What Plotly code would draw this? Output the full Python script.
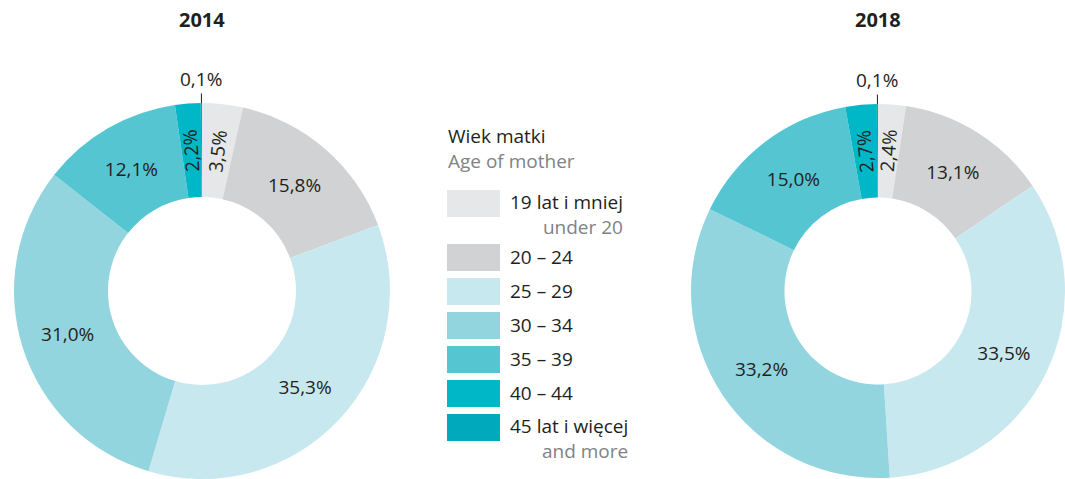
import math
import plotly.graph_objects as go

W, H = 1065, 479

categories_pl = ["19 lat i mniej", "20 – 24", "25 – 29", "30 – 34", "35 – 39", "40 – 44", "45 lat i więcej"]
categories_en = ["under 20", "", "", "", "", "", "and more"]
values_2014 = [3.5, 15.8, 35.3, 31.0, 12.1, 2.2, 0.1]
values_2018 = [2.4, 13.1, 33.5, 33.2, 15.0, 2.7, 0.1]
colors = ["#e6e7e8", "#d1d2d4", "#c8e8ef", "#93d5df", "#56c5d2", "#00b7c7", "#00a9bc"]
years = ["2014", "2018"]

FONT = "Open Sans"
DARK = "#231f20"
GRAY = "#808285"
HOLE = 0.5
LABEL_SIZE = 19


def fmt(v):
    return f"{v:.1f}".replace(".", ",") + "%"


def px_x(p):
    return p / W


def px_y(p):
    return 1 - p / H


fig = go.Figure()

# pie domains in pixels: (left, right, top, bottom)
dom_px = [(14, 390, 103, H), (691, W, 103, H)]

annotations = []
for yr, vals, (l, r, t, b) in zip(years, [values_2014, values_2018], dom_px):
    total = sum(vals)
    texts = []
    R = min(r - l, b - t) / 2
    cx, cy = (l + r) / 2, (t + b) / 2
    cum = 0
    for i, v in enumerate(vals):
        mid = (cum + v / 2) / total * 360
        cum += v
        if v < 1:
            texts.append("")
            ex = cx + R * math.sin(math.radians(mid))
            ey = cy - R * math.cos(math.radians(mid))
            annotations.append(dict(
                x=px_x(ex), y=px_y(ey), xref="paper", yref="paper",
                text=fmt(v), showarrow=True, arrowhead=0, arrowwidth=1,
                arrowcolor=DARK, ax=0, ay=-24, standoff=0,
                font=dict(family=FONT, size=LABEL_SIZE, color=DARK),
            ))
        elif v < 5:
            texts.append("")
            rm = R * (1 + HOLE) / 2
            tx = cx + rm * math.sin(math.radians(mid))
            ty = cy - rm * math.cos(math.radians(mid))
            annotations.append(dict(
                x=px_x(tx), y=px_y(ty), xref="paper", yref="paper",
                text=fmt(v), showarrow=False, textangle=mid - 90,
                xanchor="center", yanchor="middle",
                font=dict(family=FONT, size=LABEL_SIZE, color=DARK),
            ))
        else:
            texts.append(fmt(v))
    fig.add_trace(go.Pie(
        labels=categories_pl,
        values=vals,
        text=texts,
        textinfo="text",
        textposition="inside",
        insidetextorientation="horizontal",
        textfont=dict(family=FONT, size=LABEL_SIZE, color=DARK),
        marker=dict(colors=colors, line=dict(width=0)),
        hole=HOLE,
        sort=False,
        direction="clockwise",
        rotation=0,
        domain=dict(x=[px_x(l), px_x(r)], y=[px_y(b), px_y(t)]),
        showlegend=False,
        hoverinfo="label+percent",
    ))
    annotations.append(dict(
        x=px_x(cx), y=px_y(19), xref="paper", yref="paper",
        text=f"<b>{yr}</b>", showarrow=False,
        font=dict(family=FONT, size=20, color=DARK),
        xanchor="center", yanchor="middle",
    ))

# legend title
LEG = 19
annotations.append(dict(x=px_x(446), y=px_y(148), xref="paper", yref="paper",
                        text=f"Wiek matki<br><span style='color:{GRAY}'>Age of mother</span>",
                        showarrow=False, xanchor="left", yanchor="middle", align="left",
                        font=dict(family=FONT, size=LEG, color=DARK)))

shapes = []
sw_top = [190, 244, 278, 312, 346, 380, 414]
for i, (c, pl, en) in enumerate(zip(colors, categories_pl, categories_en)):
    t = sw_top[i]
    shapes.append(dict(type="rect", xref="paper", yref="paper",
                       x0=px_x(447), x1=px_x(500), y0=px_y(t + 27), y1=px_y(t),
                       fillcolor=c, line=dict(width=0)))
    if en:
        annotations.append(dict(x=px_x(508), y=px_y(t + 24.5), xref="paper", yref="paper",
                                text=f"{pl}<br><span style='color:{GRAY}'>{en}</span>",
                                showarrow=False, xanchor="left", yanchor="middle", align="right",
                                font=dict(family=FONT, size=LEG, color=DARK)))
    else:
        annotations.append(dict(x=px_x(508), y=px_y(t + 13), xref="paper", yref="paper",
                                text=pl, showarrow=False, xanchor="left", yanchor="middle",
                                font=dict(family=FONT, size=LEG, color=DARK)))

fig.update_layout(
    width=W, height=H,
    margin=dict(l=0, r=0, t=0, b=0),
    paper_bgcolor="white",
    plot_bgcolor="white",
    annotations=annotations,
    shapes=shapes,
    font=dict(family=FONT, color=DARK),
)

fig.write_html("out.html", config={"displayModeBar": False},
               post_script="document.body.style.margin='0';")
